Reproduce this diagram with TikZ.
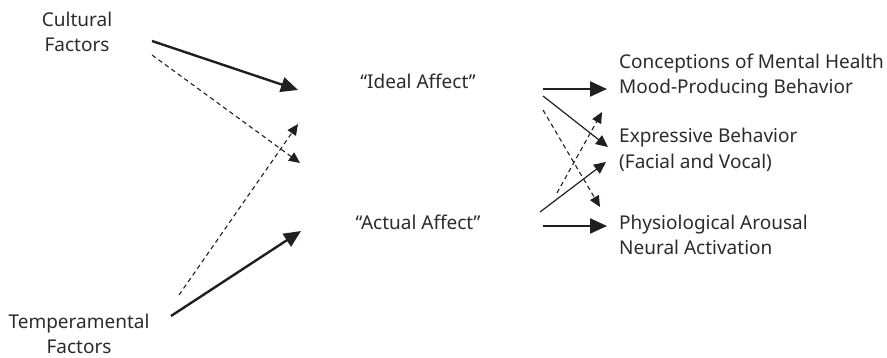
\documentclass[tikz,border=0pt]{standalone}
\usepackage{fontspec}
\setmainfont{Noto Sans}
\usetikzlibrary{arrows.meta}
\definecolor{ink}{HTML}{231F20}
\definecolor{textc}{HTML}{2B2B2B}
\begin{document}
\begin{tikzpicture}[x=1pt,y=-1pt,
  lbl/.style={font=\fontsize{19}{25.5}\selectfont, text=textc, inner sep=0pt},
  thick arrow/.style={draw=ink, line width=2.4pt, -{Triangle[length=17pt,width=15pt]}},
  thin arrow/.style={draw=ink, line width=1.2pt, -{Triangle[length=12pt,width=11pt]}},
  dash arrow/.style={draw=ink, line width=1.1pt, dash pattern=on 4.5pt off 3.5pt, -{Triangle[length=11pt,width=10pt]}}]
\useasboundingbox (0,0) rectangle (887,358);
% text nodes
\node[lbl, align=center] (cult) at (77,32) {Cultural\\Factors};
\node[lbl, align=center] (temp) at (79,334) {Temperamental\\Factors};
\node[lbl] (ideal) at (418,81) {“Ideal Affect”};
\node[lbl] (actual) at (418,222) {“Actual Affect”};
\node[lbl, align=left, anchor=west] (mental) at (619,76) {Conceptions of Mental Health\\Mood-Producing Behavior};
\node[lbl, align=left, anchor=west] (expr) at (619,150) {Expressive Behavior\\(Facial and Vocal)};
\node[lbl, align=left, anchor=west] (phys) at (619,235) {Physiological Arousal\\Neural Activation};
% arrow end points
\coordinate (c1s) at (152,41);  \coordinate (c1e) at (298,90);
\coordinate (c2s) at (152,55);  \coordinate (c2e) at (300,163);
\coordinate (t1s) at (179,295); \coordinate (t1e) at (298,124);
\coordinate (t2s) at (171,316); \coordinate (t2e) at (301,231);
\coordinate (r1s) at (543,89);  \coordinate (r1e) at (607,89);
\coordinate (r2s) at (543,96);  \coordinate (r2e) at (608,147);
\coordinate (r3s) at (543,110); \coordinate (r3e) at (600,207);
\coordinate (r4s) at (557,193); \coordinate (r4e) at (602,112);
\coordinate (r5s) at (540,212); \coordinate (r5e) at (606,162);
\coordinate (r6s) at (543,226); \coordinate (r6e) at (607,226);
% connectors
\draw[thick arrow] (c1s) -- (c1e);
\draw[dash arrow] (c2s) -- (c2e);
\draw[dash arrow] (t1s) -- (t1e);
\draw[thick arrow] (t2s) -- (t2e);
\draw[thick arrow] (r1s) -- (r1e);
\draw[thin arrow] (r2s) -- (r2e);
\draw[dash arrow] (r3s) -- (r3e);
\draw[dash arrow] (r4s) -- (r4e);
\draw[thin arrow] (r5s) -- (r5e);
\draw[thick arrow] (r6s) -- (r6e);
\end{tikzpicture}
\end{document}
